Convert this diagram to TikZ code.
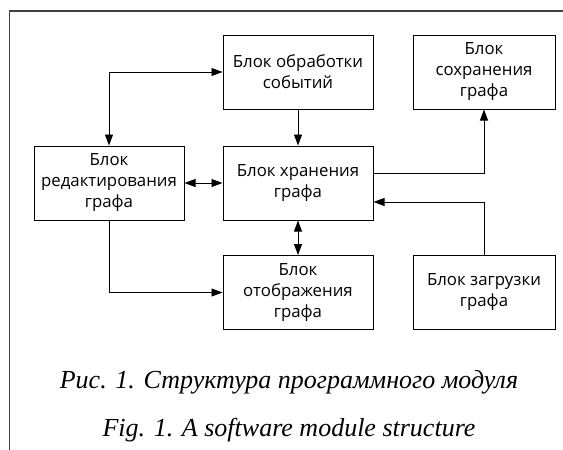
\documentclass[tikz,border=0pt]{standalone}
\usepackage{fontspec}
\setmainfont{Liberation Serif}
\newfontfamily\blockfont{Open Sans}
\newfontfamily\captionfont{Liberation Serif}
\usetikzlibrary{arrows.meta}

\begin{document}
\begin{tikzpicture}[
    x=1pt, y=-1pt,
    line width=0.9pt,
    block/.style={draw, line width=1pt, minimum width=150pt, minimum height=74pt,
        inner sep=0pt, align=center, font=\blockfont\fontsize{16.8}{21}\selectfont},
    narrow/.style={block, minimum width=142pt},
    arr/.style={-{Triangle[length=11pt,width=8pt]}},
    twoway/.style={{Triangle[length=11pt,width=8pt]}-{Triangle[length=11pt,width=8pt]}},
    caption/.style={font=\captionfont\itshape\fontsize{26}{30}\selectfont}
]
    \useasboundingbox (0,0) rectangle (563,450);

    % Frame (top and left edges only)
    \draw[line width=1.5pt, black!75] (9.5,450) -- (9.5,11) -- (563,11);

    % Blocks
    \node[block]  (events)  at (298,72)    {Блок обработки\\событий};
    \node[narrow] (save)    at (484,72)    {Блок\\сохранения\\графа};
    \node[block]  (edit)    at (109,183)   {Блок\\редактирования\\графа};
    \node[block]  (store)   at (298,183)   {Блок хранения\\графа};
    \node[block]  (display) at (298,292.5) {Блок\\отображения\\графа};
    \node[narrow] (load)    at (484,292.5) {Блок загрузки\\графа};

    % Connectors
    \draw[twoway] (edit.north) |- (events.west);
    \draw[arr] (events) -- (store);
    \draw[twoway] (edit) -- (store);
    \draw[twoway] (store) -- (display);
    \draw[arr] (edit.south) |- (display.west);
    \draw[arr] ([yshift=10pt]store.east) -| (save.south);
    \draw[arr] (load.north) |- ([yshift=-19pt]store.east);

    % Captions
    \node[caption] (capru) at (289,382) {Рис. 1. Структура программного модуля};
    \node[caption] (capen) at (289,430) {Fig. 1. A software module structure};

\end{tikzpicture}
\end{document}
